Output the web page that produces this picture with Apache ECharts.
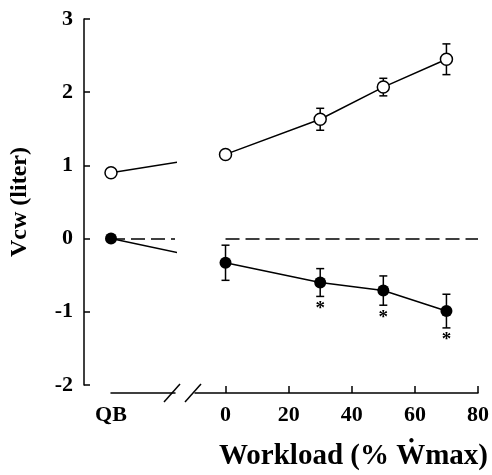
<!DOCTYPE html>
<html>
<head>
<meta charset="utf-8">
<script src="https://cdn.jsdelivr.net/npm/echarts@6/dist/echarts.min.js"></script>
<style>html,body{margin:0;padding:0;background:#fff;}#chart{width:492px;height:475px;}</style>
</head>
<body>
<div id="chart"></div>
<script>
// ---- data ----
const qbLabel = 'QB';
const workloads = [0, 30, 50, 70];
const openQB = 0.9;
const openMean = [1.15, 1.63, 2.07, 2.45];
const openErr = [0.0, 0.15, 0.12, 0.21];
const closedQB = 0.0;
const closedMean = [-0.33, -0.60, -0.71, -0.99];
const closedErr = [0.24, 0.19, 0.20, 0.23];
const sigWorkloads = [30, 50, 70];
const xTicks = [0, 20, 40, 60, 80];
const yTicks = [-2, -1, 0, 1, 2, 3];

// ---- layout / style ----
const QB_POS = -36.3;           // axis position of the QB category
const FONT = '"Liberation Serif", "DejaVu Serif", serif';
const BLACK = '#000';
const LW = 1.5;
const TICK_FS = 22;

const chart = echarts.init(document.getElementById('chart'), null, {renderer: 'canvas'});

function errSeries(xs, means, errs, name) {
  return {
    type: 'custom', name: name, xAxisIndex: 1, yAxisIndex: 1, z: 1,
    data: xs.map((x, i) => [x, means[i] - errs[i], means[i] + errs[i]]),
    renderItem: function (params, api) {
      const lo = api.coord([api.value(0), api.value(1)]);
      const hi = api.coord([api.value(0), api.value(2)]);
      const w = 4;
      return {
        type: 'group',
        children: [
          {type: 'line', shape: {x1: lo[0], y1: lo[1], x2: hi[0], y2: hi[1]}, style: {stroke: BLACK, lineWidth: LW}},
          {type: 'line', shape: {x1: lo[0] - w, y1: lo[1], x2: lo[0] + w, y2: lo[1]}, style: {stroke: BLACK, lineWidth: LW}},
          {type: 'line', shape: {x1: hi[0] - w, y1: hi[1], x2: hi[0] + w, y2: hi[1]}, style: {stroke: BLACK, lineWidth: LW}}
        ]
      };
    }
  };
}

const sigData = sigWorkloads.map(x => {
  const i = workloads.indexOf(x);
  return [x, closedMean[i] - closedErr[i]];
});

const option = {
  animation: false,
  backgroundColor: '#fff',
  grid: [
    {left: 111, width: 64, top: 19, bottom: 90},
    {left: 195, right: 14, top: 19, bottom: 90}
  ],
  xAxis: [
    {
      type: 'value', gridIndex: 0, min: QB_POS, max: -16.0, offset: 8,
      axisLine: {show: true, onZero: false, lineStyle: {color: BLACK, width: LW}},
      axisTick: {show: false},
      splitLine: {show: false},
      axisLabel: {customValues: [QB_POS], formatter: () => qbLabel, color: BLACK,
        fontFamily: FONT, fontWeight: 'bold', fontSize: TICK_FS, margin: 11}
    },
    {
      type: 'value', gridIndex: 1, min: -9.67, max: 80, offset: 8,
      axisLine: {show: true, onZero: false, lineStyle: {color: BLACK, width: LW}},
      axisTick: {show: true, inside: true, length: 7, customValues: xTicks, lineStyle: {color: BLACK, width: LW}},
      splitLine: {show: false},
      axisLabel: {customValues: xTicks, color: BLACK, fontFamily: FONT, fontWeight: 'bold', fontSize: TICK_FS, margin: 11}
    }
  ],
  yAxis: [
    {
      type: 'value', gridIndex: 0, min: yTicks[0], max: yTicks[yTicks.length - 1], interval: 1, offset: 27,
      axisLine: {show: true, onZero: false, lineStyle: {color: BLACK, width: LW}},
      axisTick: {show: true, inside: true, length: 6, lineStyle: {color: BLACK, width: LW}},
      splitLine: {show: false},
      axisLabel: {color: BLACK, fontFamily: FONT, fontWeight: 'bold', fontSize: TICK_FS, margin: 11},
      name: 'Vcw (liter)', nameLocation: 'middle', nameGap: 52,
      nameTextStyle: {color: BLACK, fontFamily: FONT, fontWeight: 'bold', fontSize: 24}
    },
    {
      type: 'value', gridIndex: 1, min: yTicks[0], max: yTicks[yTicks.length - 1], interval: 1, show: false
    }
  ],
  series: [
    {
      type: 'line', xAxisIndex: 0, yAxisIndex: 0, clip: true, z: 3,
      data: [[QB_POS, openQB], {value: [workloads[0], openMean[0]], symbol: 'none'}],
      symbol: 'circle', symbolSize: 12,
      itemStyle: {color: '#fff', borderColor: BLACK, borderWidth: LW},
      lineStyle: {color: BLACK, width: LW}
    },
    {
      type: 'line', xAxisIndex: 0, yAxisIndex: 0, clip: true, z: 3,
      data: [[QB_POS, closedQB], {value: [workloads[0], closedMean[0]], symbol: 'none'}],
      symbol: 'circle', symbolSize: 12,
      itemStyle: {color: BLACK, borderColor: BLACK, borderWidth: 0},
      lineStyle: {color: BLACK, width: LW},
      markLine: {
        silent: true, symbol: 'none', label: {show: false},
        lineStyle: {color: BLACK, width: LW, type: [14, 6]},
        data: [{yAxis: 0}]
      }
    },
    errSeries(workloads, openMean, openErr, 'openErr'),
    errSeries(workloads, closedMean, closedErr, 'closedErr'),
    {
      type: 'line', xAxisIndex: 1, yAxisIndex: 1, z: 3,
      data: workloads.map((x, i) => [x, openMean[i]]),
      symbol: 'circle', symbolSize: 12,
      itemStyle: {color: '#fff', borderColor: BLACK, borderWidth: LW},
      lineStyle: {color: BLACK, width: LW}
    },
    {
      type: 'line', xAxisIndex: 1, yAxisIndex: 1, z: 3,
      data: workloads.map((x, i) => [x, closedMean[i]]),
      symbol: 'circle', symbolSize: 12,
      itemStyle: {color: BLACK, borderWidth: 0},
      lineStyle: {color: BLACK, width: LW},
      markLine: {
        silent: true, symbol: 'none', label: {show: false},
        lineStyle: {color: BLACK, width: LW, type: [14, 6]},
        data: [[{coord: [xTicks[0], 0]}, {coord: [xTicks[xTicks.length - 1], 0]}]]
      }
    },
    {
      type: 'custom', xAxisIndex: 1, yAxisIndex: 1, z: 4,
      data: sigData,
      renderItem: function (params, api) {
        const p = api.coord([api.value(0), api.value(1)]);
        return {
          type: 'text',
          style: {text: '*', x: p[0], y: p[1] + 3, align: 'center', verticalAlign: 'top',
            font: 'bold 19px ' + FONT, fill: BLACK}
        };
      }
    }
  ]
};
chart.setOption(option);

const aEnd = chart.convertToPixel({xAxisIndex: 0}, -16.0);
const bStart = chart.convertToPixel({xAxisIndex: 1}, -9.67);
const axisY = chart.convertToPixel({yAxisIndex: 1}, yTicks[0]) + 8;
function slash(cx) {
  return {type: 'line', shape: {x1: cx - 8, y1: axisY + 9, x2: cx + 8, y2: axisY - 9},
    style: {stroke: BLACK, lineWidth: LW}, z: 10};
}
chart.setOption({
  graphic: [
    slash(aEnd - 3),
    slash(bStart - 2),
    {type: 'text', right: 4, top: 442, z: 10,
      style: {text: 'Workload (% \u1E86max)', font: 'bold 29px ' + FONT, fill: BLACK}}
  ]
});
</script>
</body>
</html>
